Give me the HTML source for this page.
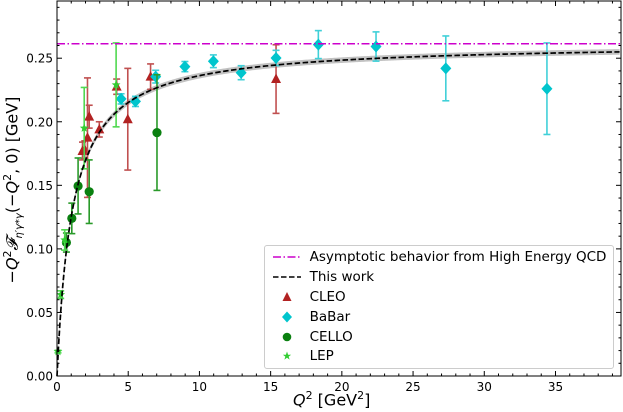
<!DOCTYPE html>
<html><head><meta charset="utf-8"><style>
body{margin:0;background:#fff;}
svg{display:block;font-family:"DejaVu Sans","Liberation Sans",sans-serif;}
</style></head><body>
<svg id="chart" width="623" height="412"></svg>
<script>
const cleoX=[1.79,1.95,2.14,2.26,2.97,4.19,4.97,6.57,15.38];
const cleoY=[0.177,0.178,0.1875,0.204,0.194,0.2276,0.202,0.2355,0.2336];
const cleoE=[0.007,0.007,0.047,0.009,0.006,0.006,0.04,0.01,0.027];
const babarX=[4.5,5.51,6.93,8.98,10.98,12.93,15.38,18.35,22.4,27.3,34.4];
const babarY=[0.218,0.216,0.2355,0.2434,0.2476,0.2386,0.2502,0.2607,0.2592,0.242,0.226];
const babarE=[0.004,0.004,0.005,0.004,0.005,0.0055,0.006,0.011,0.0115,0.0255,0.036];
const celloX=[0.66,1.04,1.48,2.26,7.02];
const celloY=[0.105,0.124,0.1495,0.145,0.1915];
const celloE=[0.0075,0.012,0.022,0.025,0.0455];
const lepX=[0.07,0.26,0.54,1.91,4.15];
const lepY=[0.0192,0.064,0.107,0.195,0.229];
const lepE=[0.001,0.003,0.008,0.032,0.033];
const asym=0.2614;
const modelA=0.262, modelL=1.09;
const xTicks=[0,5,10,15,20,25,30,35];
const yTicks=[0,0.05,0.10,0.15,0.20,0.25];
const yTickLabels=["0.00","0.05","0.10","0.15","0.20","0.25"];

const L=57,R=621,T=1,B=376,XMAX=39.6,YMAX=0.295;
const sx=v=>L+v/XMAX*(R-L), sy=v=>B-v/YMAX*(B-T);
const NS="http://www.w3.org/2000/svg", svg=document.getElementById('chart');
function mk(tag,at,parent){const e=document.createElementNS(NS,tag);for(const k in at)e.setAttribute(k,at[k]);(parent||svg).appendChild(e);return e;}

let up=[],dn=[],ln=[];
for(let q=0;q<=XMAX;q+=0.1){const f=modelA*q/(modelL+q);up.push(sx(q)+','+sy(f+0.0022));dn.unshift(sx(q)+','+sy(Math.max(f-0.0022,0)));ln.push(sx(q)+','+sy(f));}
const band=mk('polygon',{points:up.concat(dn).join(' '),fill:'#999','fill-opacity':0.6});



function series(xs,ys,es,color,ecolor,shape,name){
  const g=mk('g',{});
  
  
  xs.forEach((x,i)=>{
    const cx=sx(x),cy=sy(ys[i]),y1=sy(ys[i]+es[i]),y2=sy(ys[i]-es[i]);
    mk('line',{x1:cx,x2:cx,y1:y1,y2:y2,stroke:ecolor,'stroke-width':1.6},g);
    mk('line',{x1:cx-3.5,x2:cx+3.5,y1:y1,y2:y1,stroke:ecolor,'stroke-width':1.6},g);
    mk('line',{x1:cx-3.5,x2:cx+3.5,y1:y2,y2:y2,stroke:ecolor,'stroke-width':1.6},g);
    let m=marker(shape,cx,cy,color,g);
    
    
  });
}
function marker(shape,cx,cy,color,g){
  if(shape==='tri')return mk('polygon',{points:`${cx},${cy-5.5} ${cx-5},${cy+4} ${cx+5},${cy+4}`,fill:color},g);
  if(shape==='dia')return mk('polygon',{points:`${cx},${cy-6} ${cx+5.5},${cy} ${cx},${cy+6} ${cx-5.5},${cy}`,fill:color},g);
  if(shape==='cir')return mk('circle',{cx:cx,cy:cy,r:4.6,fill:color},g);
  let p=[];for(let k=0;k<10;k++){const r=k%2?2:4.6,a=-Math.PI/2+k*Math.PI/5;p.push((cx+r*Math.cos(a))+','+(cy+r*Math.sin(a)));}
  return mk('polygon',{points:p.join(' '),fill:color},g);
}
series(cleoX,cleoY,cleoE,'#b22222','#c05050','tri','cleo');
series(babarX,babarY,babarE,'#00c5cd','#40d0d8','dia','babar');
series(celloX,celloY,celloE,'#0a8010','#2a9a2a','cir','cello');
series(lepX,lepY,lepE,'#32cd32','#50d850','star','lep');

const cl=mk('polyline',{points:ln.join(' '),fill:'none',stroke:'#000','stroke-width':1.7,'stroke-dasharray':'5.5,2.5'});


const al=mk('line',{x1:L,x2:R,y1:sy(asym),y2:sy(asym),stroke:'#cc00cc','stroke-width':1.5,'stroke-dasharray':'8,2.5,1.5,2.5'});



const fr=mk('rect',{x:L,y:T,width:R-L,height:B-T,fill:'none',stroke:'#000','stroke-width':1});


for(let v=0;v<=XMAX;v+=1){const X=sx(v),maj=Math.abs(v%5)<1e-6,len=maj?5:2.5;
  mk('line',{x1:X,x2:X,y1:B,y2:B-len,stroke:'#000'});mk('line',{x1:X,x2:X,y1:T,y2:T+len,stroke:'#000'});}
for(let i=0;i<=29;i++){const v=i*0.01,Y=sy(v),maj=i%5===0,len=maj?5:2.5;
  mk('line',{x1:L,x2:L+len,y1:Y,y2:Y,stroke:'#000'});mk('line',{x1:R,x2:R-len,y1:Y,y2:Y,stroke:'#000'});}
xTicks.forEach(v=>{const t=mk('text',{x:sx(v),y:B+15,'font-size':12,'text-anchor':'middle'});t.textContent=v;
  
  });
yTicks.forEach((v,i)=>{const t=mk('text',{x:L-4,y:sy(v)+4.5,'font-size':12,'text-anchor':'end'});t.textContent=yTickLabels[i];
  
  });
</script>
<div style="position:absolute;left:293px;top:389px;font:16px 'DejaVu Sans',sans-serif;"><i>Q</i><sup style="font-size:11px">2</sup> [GeV<sup style="font-size:11px">2</sup>]</div>
<div style="position:absolute;left:13px;top:190px;width:0;height:0;"><div style="position:absolute;white-space:nowrap;transform:translate(-50%,-50%) rotate(-90deg);font:16px 'DejaVu Sans',sans-serif;">−<i>Q</i><sup style="font-size:11px">2</sup><i>𝓕</i><sub style="font-size:10px"><i>η′γ*γ</i></sub>(−<i>Q</i><sup style="font-size:11px">2</sup>, 0) [GeV]</div></div>
<div style="position:absolute;left:264px;top:245px;width:348px;height:122px;border:1px solid #ccc;border-radius:3px;background:rgba(255,255,255,0.85);font:13.5px 'DejaVu Sans',sans-serif;">
 <div style="position:absolute;left:8px;top:3px;white-space:nowrap;"><svg width="28" height="10" style="display:inline-block;vertical-align:middle"><line x1="0" x2="28" y1="5" y2="5" stroke="#cc00cc" stroke-width="1.5" stroke-dasharray="8,2.5,1.5,2.5"/></svg> &nbsp;Asymptotic behavior from High Energy QCD</div>
 <div style="position:absolute;left:8px;top:23px;"><svg width="28" height="10" style="display:inline-block;vertical-align:middle"><line x1="0" x2="28" y1="5" y2="5" stroke="#000" stroke-width="1.6" stroke-dasharray="5.5,2.5"/></svg> &nbsp;This work</div>
 <div style="position:absolute;left:8px;top:43px;"><svg width="28" height="12" style="display:inline-block;vertical-align:middle"><polygon points="14,1 9.5,10 18.5,10" fill="#b22222"/></svg> &nbsp;CLEO</div>
 <div style="position:absolute;left:8px;top:63px;"><svg width="28" height="12" style="display:inline-block;vertical-align:middle"><polygon points="14,0.5 19,6 14,11.5 9,6" fill="#00c5cd"/></svg> &nbsp;BaBar</div>
 <div style="position:absolute;left:8px;top:83px;"><svg width="28" height="12" style="display:inline-block;vertical-align:middle"><circle cx="14" cy="6" r="4.3" fill="#0a8010"/></svg> &nbsp;CELLO</div>
 <div style="position:absolute;left:8px;top:102px;"><svg width="28" height="12" style="display:inline-block;vertical-align:middle"><polygon points="14,1.5 15.1,4.7 18.1,4.7 15.7,6.6 16.6,9.6 14,7.8 11.4,9.6 12.3,6.6 9.9,4.7 12.9,4.7" fill="#32cd32"/></svg> &nbsp;LEP</div>
</div>
</body></html>
